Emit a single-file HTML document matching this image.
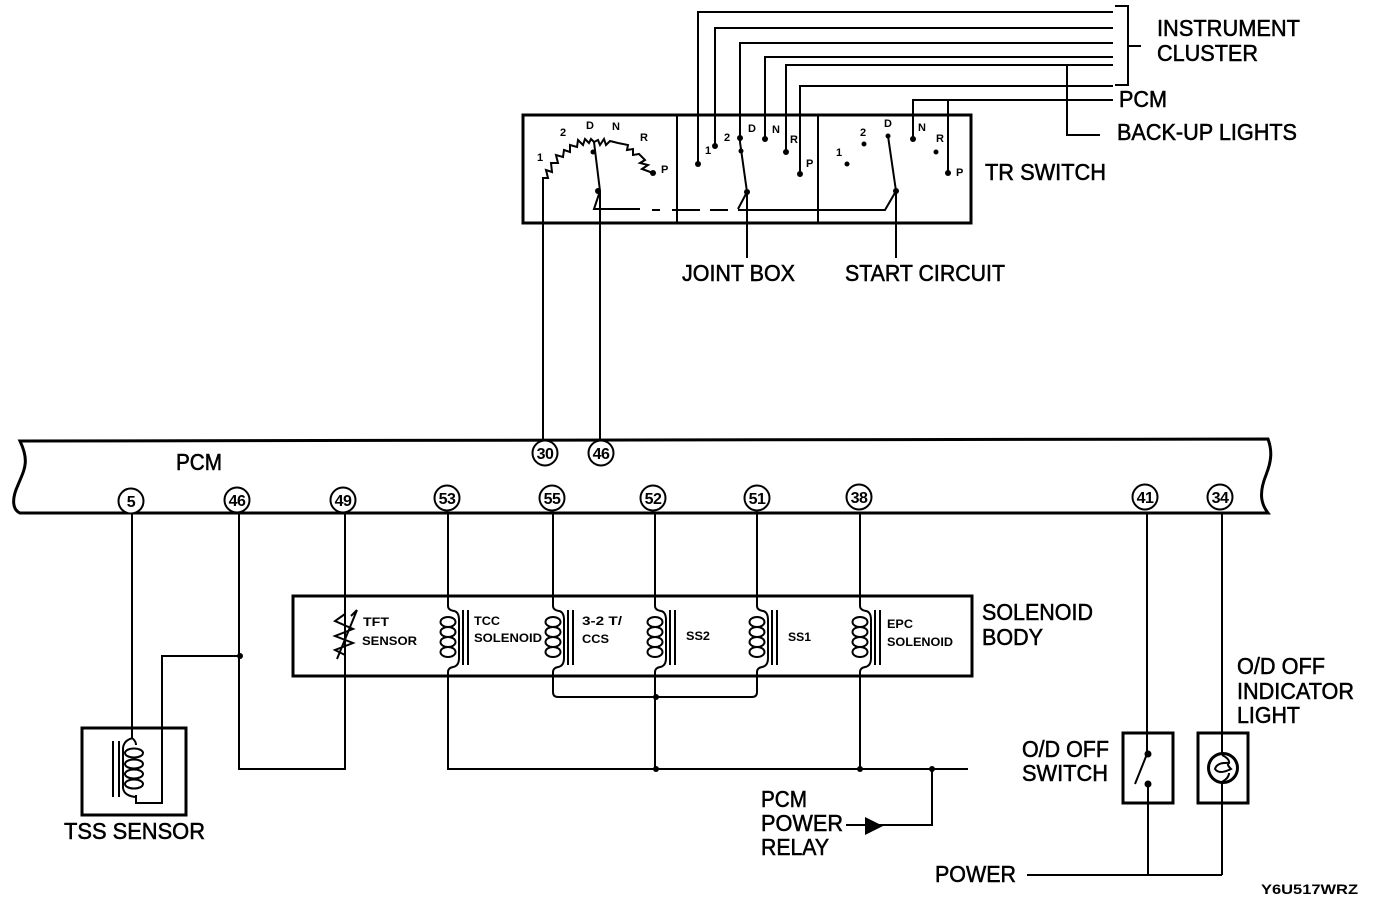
<!DOCTYPE html>
<html><head><meta charset="utf-8"><style>
html,body{margin:0;padding:0;background:#fff}
svg{display:block}
text{font-family:"Liberation Sans",sans-serif;fill:#000}
.l{font-size:23px;stroke:#000;stroke-width:.55px}
.s{font-size:12px;font-weight:bold}
.k{font-size:11px;font-weight:bold}
.n{font-size:16px;text-anchor:middle;font-weight:bold;letter-spacing:-.5px}
.w{fill:none;stroke:#000;stroke-width:2}
.t{fill:none;stroke:#000;stroke-width:3}
</style></head><body>
<svg width="1376" height="904" viewBox="0 0 1376 904" xmlns="http://www.w3.org/2000/svg">
<defs>
<g id="coil" class="w">
<path d="M0 606 Q0 610 6 611 Q11 612 11 620 L11 658 Q11 666 5 667 Q0 668 0 672" fill="none"/>
<ellipse cx="0" cy="622" rx="7.5" ry="5"/><ellipse cx="0" cy="632" rx="7.5" ry="5"/>
<ellipse cx="0" cy="642" rx="7.5" ry="5"/><ellipse cx="0" cy="652" rx="7.5" ry="5"/>
<path d="M15 610V665M20 610V665"/>
</g>
</defs>

<!-- top wires -->
<g class="w">
<path d="M1113 12H698V164"/>
<path d="M1113 28H715V146"/>
<path d="M1113 43H740V142L747 192V258"/>
<path d="M1113 57H765V139"/>
<path d="M1113 65H786V152"/>
<path d="M1113 86H800V174"/>
<path d="M1113 100H913V139"/>
<path d="M948 100V173"/>
<path d="M1067 65V135H1100"/>
<path d="M1115 6H1128V85H1115M1128 46H1141"/>
</g>

<!-- TR switch box -->
<path class="t" d="M523 115H971V223H523Z"/>
<path class="w" d="M677 115V223M818 115V223"/>
<path class="w" d="M543 440V178H548L546 170L552 172L551 163L558 163L556 155L563 157L564 150L570 152L570 145L577 147L578 140L583 145L585 139L589 143L591 139L594 142L598 140L600 145L604 139L606 145L610 141L618 143L628 145L627 150L633 149L633 155L639 154L645 160L640 163L648 165L642 169L653 173"/>
<path class="w" d="M600 440V191L594 142M600 191L594 209H640M652 210H660M672 210H700M710 210H728M738 209L747 192M738 210H792M804 210H812M818 210H885L896 191L888 136M896 191V258"/>
<path class="w" d="M792 210H880"/>
<g>
<circle cx="698" cy="164" r="3"/><circle cx="715" cy="146" r="3"/><circle cx="740" cy="138" r="3"/><circle cx="741" cy="151" r="2.5"/><circle cx="747" cy="192" r="3"/>
<circle cx="765" cy="139" r="3"/><circle cx="786" cy="152" r="3"/><circle cx="800" cy="174" r="3"/>
<circle cx="847" cy="164" r="2.5"/><circle cx="864" cy="144" r="2.5"/><circle cx="888" cy="136" r="2.5"/><circle cx="896" cy="191" r="3"/>
<circle cx="913" cy="139" r="3"/><circle cx="936" cy="152" r="2.5"/><circle cx="948" cy="173" r="3"/>
<circle cx="653" cy="173" r="3"/><circle cx="598" cy="191" r="3"/><circle cx="593" cy="152" r="2.5"/>
</g>
<g class="k">
<text x="537" y="161">1</text><text x="560" y="136">2</text><text x="586" y="129">D</text><text x="612" y="130">N</text><text x="640" y="141">R</text><text x="661" y="173">P</text>
<text x="705" y="154">1</text><text x="724" y="141">2</text><text x="748" y="132">D</text><text x="772" y="133">N</text><text x="790" y="143">R</text><text x="806" y="167">P</text>
<text x="836" y="156">1</text><text x="860" y="136">2</text><text x="884" y="127">D</text><text x="918" y="131">N</text><text x="936" y="142">R</text><text x="956" y="176">P</text>
</g>

<!-- PCM bar -->
<path class="t" d="M20 441C30 462 24 470 18 485C11 500 13 510 20 513L1268 513C1262 505 1258 495 1266 475C1272 460 1272 450 1268 439L20 441Z" fill="#fff"/>

<!-- PCM drop wires -->
<g class="w">
<path d="M132 514V738M132 738Q136 741 136 745"/>
<path d="M239 514V769H345V514"/>
<path d="M240 656H162V803H136V795"/>
<path d="M448 514V606M448 672V769H968"/>
<path d="M553 514V606M655 514V606M757 514V606M860 514V606"/>
<path d="M553 672V692Q553 697 558 697H752Q757 697 757 692V672"/>
<path d="M655 672V769"/>
<path d="M860 672V769"/>
<path d="M1147 514V754L1135 784M1148 784V875"/>
<path d="M1222 514V755M1222 782V875M1027 875H1222"/>
<path d="M932 769V825H846"/>
</g>
<polygon points="865,817 883,826 865,835"/>
<circle cx="240" cy="656" r="3"/><circle cx="656" cy="697" r="3"/><circle cx="656" cy="769" r="3"/><circle cx="860" cy="769" r="3"/><circle cx="932" cy="769" r="3"/><circle cx="1148" cy="754" r="3.5"/><circle cx="1148" cy="784" r="3.5"/>

<!-- connector circles -->
<g class="w" style="fill:#fff">
<circle cx="545" cy="453" r="12.5"/><circle cx="601" cy="453" r="12.5"/>
<circle cx="131" cy="501" r="12.5"/><circle cx="237" cy="500" r="12.5"/><circle cx="343" cy="500" r="12.5"/>
<circle cx="447" cy="498" r="12.5"/><circle cx="552" cy="498" r="12.5"/><circle cx="653" cy="498" r="12.5"/>
<circle cx="757" cy="498" r="12.5"/><circle cx="859" cy="497" r="12.5"/><circle cx="1145" cy="497" r="12.5"/><circle cx="1220" cy="497" r="12.5"/>
</g>
<g class="n">
<text x="545" y="459">30</text><text x="601" y="459">46</text>
<text x="131" y="507">5</text><text x="237" y="506">46</text><text x="343" y="506">49</text>
<text x="447" y="504">53</text><text x="552" y="504">55</text><text x="653" y="504">52</text>
<text x="757" y="504">51</text><text x="859" y="503">38</text><text x="1145" y="503">41</text><text x="1220" y="503">34</text>
</g>

<!-- solenoid body -->
<path class="t" d="M293 596H972V676H293Z" fill="none"/>
<use href="#coil" transform="translate(448,0)"/>
<use href="#coil" transform="translate(553,0)"/>
<use href="#coil" transform="translate(655,0)"/>
<use href="#coil" transform="translate(757,0)"/>
<use href="#coil" transform="translate(860,0)"/>
<path class="w" d="M345 614L335 621L353 629L335 636L353 643L335 650L345 655M337 659L357 610M357 610L351 616"/>

<!-- TSS sensor -->
<path class="t" d="M82 728H186V815H82Z" fill="none"/>
<g class="w">
<path d="M113 741V797M119 741V797"/>
<path d="M133 738Q124 740 123 748V788Q124 796 136 797"/>
<ellipse cx="134" cy="753" rx="9" ry="4.5"/><ellipse cx="134" cy="764" rx="9" ry="4.5"/><ellipse cx="134" cy="774" rx="9" ry="4.5"/><ellipse cx="134" cy="784" rx="9" ry="4.5"/>
</g>

<!-- switch and light -->
<path class="t" d="M1123 733H1173V803H1123Z" fill="none"/>
<path class="t" d="M1198 733H1248V803H1198Z" fill="none"/>
<circle class="t" cx="1223" cy="768" r="14.5"/>
<path class="w" d="M1222 755Q1230 759 1229 763Q1217 762 1215 769Q1219 775 1231 769Q1226 764 1229 763M1229 773Q1229 778 1222 782"/>

<!-- labels -->
<g class="l">
<text x="1157" y="36" textLength="143" lengthAdjust="spacingAndGlyphs">INSTRUMENT</text>
<text x="1157" y="61" textLength="101" lengthAdjust="spacingAndGlyphs">CLUSTER</text>
<text x="1119" y="107" textLength="48" lengthAdjust="spacingAndGlyphs">PCM</text>
<text x="1117" y="140" textLength="180" lengthAdjust="spacingAndGlyphs">BACK-UP LIGHTS</text>
<text x="985" y="180" textLength="121" lengthAdjust="spacingAndGlyphs">TR SWITCH</text>
<text x="682" y="281" textLength="113" lengthAdjust="spacingAndGlyphs">JOINT BOX</text>
<text x="845" y="281" textLength="160" lengthAdjust="spacingAndGlyphs">START CIRCUIT</text>
<text x="176" y="470" textLength="46" lengthAdjust="spacingAndGlyphs">PCM</text>
<text x="982" y="620" textLength="111" lengthAdjust="spacingAndGlyphs">SOLENOID</text>
<text x="982" y="645" textLength="61" lengthAdjust="spacingAndGlyphs">BODY</text>
<text x="1237" y="674" textLength="88" lengthAdjust="spacingAndGlyphs">O/D OFF</text>
<text x="1237" y="699" textLength="117" lengthAdjust="spacingAndGlyphs">INDICATOR</text>
<text x="1237" y="723" textLength="63" lengthAdjust="spacingAndGlyphs">LIGHT</text>
<text x="1022" y="757" textLength="87" lengthAdjust="spacingAndGlyphs">O/D OFF</text>
<text x="1022" y="781" textLength="86" lengthAdjust="spacingAndGlyphs">SWITCH</text>
<text x="64" y="839" textLength="141" lengthAdjust="spacingAndGlyphs">TSS SENSOR</text>
<text x="761" y="807" textLength="46" lengthAdjust="spacingAndGlyphs">PCM</text>
<text x="761" y="831" textLength="82" lengthAdjust="spacingAndGlyphs">POWER</text>
<text x="761" y="855" textLength="68" lengthAdjust="spacingAndGlyphs">RELAY</text>
<text x="935" y="882" textLength="81" lengthAdjust="spacingAndGlyphs">POWER</text>
</g>
<g class="s">
<text x="363" y="626" textLength="26" lengthAdjust="spacingAndGlyphs">TFT</text>
<text x="362" y="645" textLength="55" lengthAdjust="spacingAndGlyphs">SENSOR</text>
<text x="474" y="625" textLength="26" lengthAdjust="spacingAndGlyphs">TCC</text>
<text x="474" y="642" textLength="68" lengthAdjust="spacingAndGlyphs">SOLENOID</text>
<text x="582" y="625" textLength="40" lengthAdjust="spacingAndGlyphs">3-2 T/</text>
<text x="582" y="643" textLength="27" lengthAdjust="spacingAndGlyphs">CCS</text>
<text x="686" y="640" textLength="24" lengthAdjust="spacingAndGlyphs">SS2</text>
<text x="788" y="641" textLength="23" lengthAdjust="spacingAndGlyphs">SS1</text>
<text x="887" y="628" textLength="26" lengthAdjust="spacingAndGlyphs">EPC</text>
<text x="887" y="646" textLength="66" lengthAdjust="spacingAndGlyphs">SOLENOID</text>
</g>
<text x="1261" y="894" font-size="14" textLength="97" lengthAdjust="spacingAndGlyphs" style="font-weight:bold">Y6U517WRZ</text>
</svg>
</body></html>
